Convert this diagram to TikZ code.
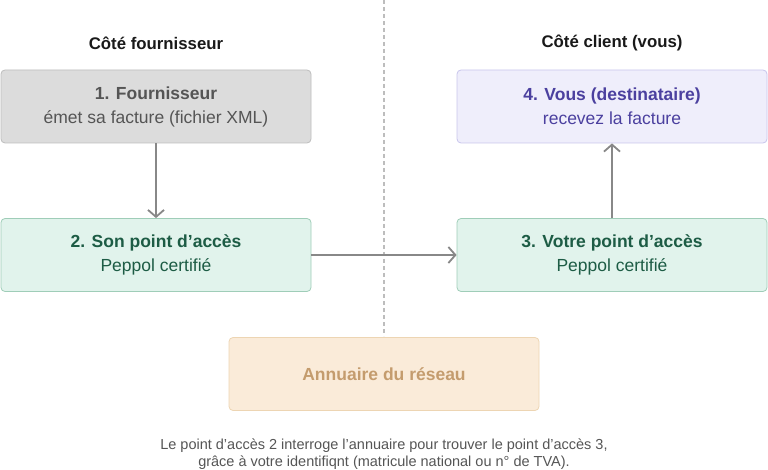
\documentclass[tikz,border=0pt]{standalone}
\usepackage{fontspec}
\setmainfont{Liberation Sans}
\usepackage{tikz}
\usetikzlibrary{arrows.meta,positioning,calc}

\definecolor{linegray}{HTML}{888888}
\definecolor{sepgray}{HTML}{BDBDBD}
\definecolor{suppfill}{HTML}{DCDCDC}
\definecolor{suppdraw}{HTML}{BDBDBD}
\definecolor{supptext}{HTML}{555555}
\definecolor{apfill}{HTML}{E1F3EC}
\definecolor{apdraw}{HTML}{9FCDB8}
\definecolor{aptext}{HTML}{1D5C45}
\definecolor{youfill}{HTML}{EFEEFB}
\definecolor{youdraw}{HTML}{C8C5EC}
\definecolor{youtext}{HTML}{4B409F}
\definecolor{dirfill}{HTML}{FAEBD9}
\definecolor{dirdraw}{HTML}{EDD5B3}
\definecolor{dirtext}{HTML}{C49C6E}

\tikzset{
  box/.style={draw, rounded corners=4pt, line width=0.8pt, minimum width=310pt,
    minimum height=73pt, align=center, font=\fontsize{17.5}{24}\selectfont},
  flow/.style={draw=linegray, line width=1.8pt,
    -{Straight Barb[length=7pt,width=16pt,line width=1.8pt]}},
  side/.style={font=\fontsize{16.8}{20}\selectfont\bfseries, text=black!90}
}

\begin{document}
\begin{tikzpicture}[x=1pt,y=-1pt]
  \useasboundingbox (0,0) rectangle (768,470);
  \draw[sepgray, line width=1.4pt, dash pattern=on 4pt off 3pt] (384,0) -- (384,336);

  \node[side] (lefthead) at (156,43) {Côté fournisseur};
  \node[side] (righthead) at (612,43) {Côté client (vous)};

  \node[box, fill=suppfill, draw=suppdraw, text=supptext] (supplier) at (156,106.5)
    {\textbf{1. Fournisseur}\\ émet sa facture (fichier XML)};
  \node[box, fill=youfill, draw=youdraw, text=youtext] (you) at (612,106.5)
    {\textbf{4. Vous (destinataire)}\\ recevez la facture};
  \node[box, fill=apfill, draw=apdraw, text=aptext] (sendap) at (156,255)
    {\textbf{2. Son point d’accès}\\ Peppol certifié};
  \node[box, fill=apfill, draw=apdraw, text=aptext] (recvap) at (612,255)
    {\textbf{3. Votre point d’accès}\\ Peppol certifié};
  \node[box, fill=dirfill, draw=dirdraw, text=dirtext] (directory) at (384,374)
    {\textbf{Annuaire du réseau}};

  \draw[flow] (supplier) -- (sendap);
  \draw[flow] (sendap) -- (recvap);
  \draw[flow] (recvap) -- (you);

  \node[align=center, text=supptext, font=\fontsize{14.5}{17}\selectfont] (note) at (384,454)
    {Le point d’accès 2 interroge l’annuaire pour trouver le point d’accès 3,\\
     grâce à votre identifiqnt (matricule national ou n° de TVA).};
\end{tikzpicture}
\end{document}
